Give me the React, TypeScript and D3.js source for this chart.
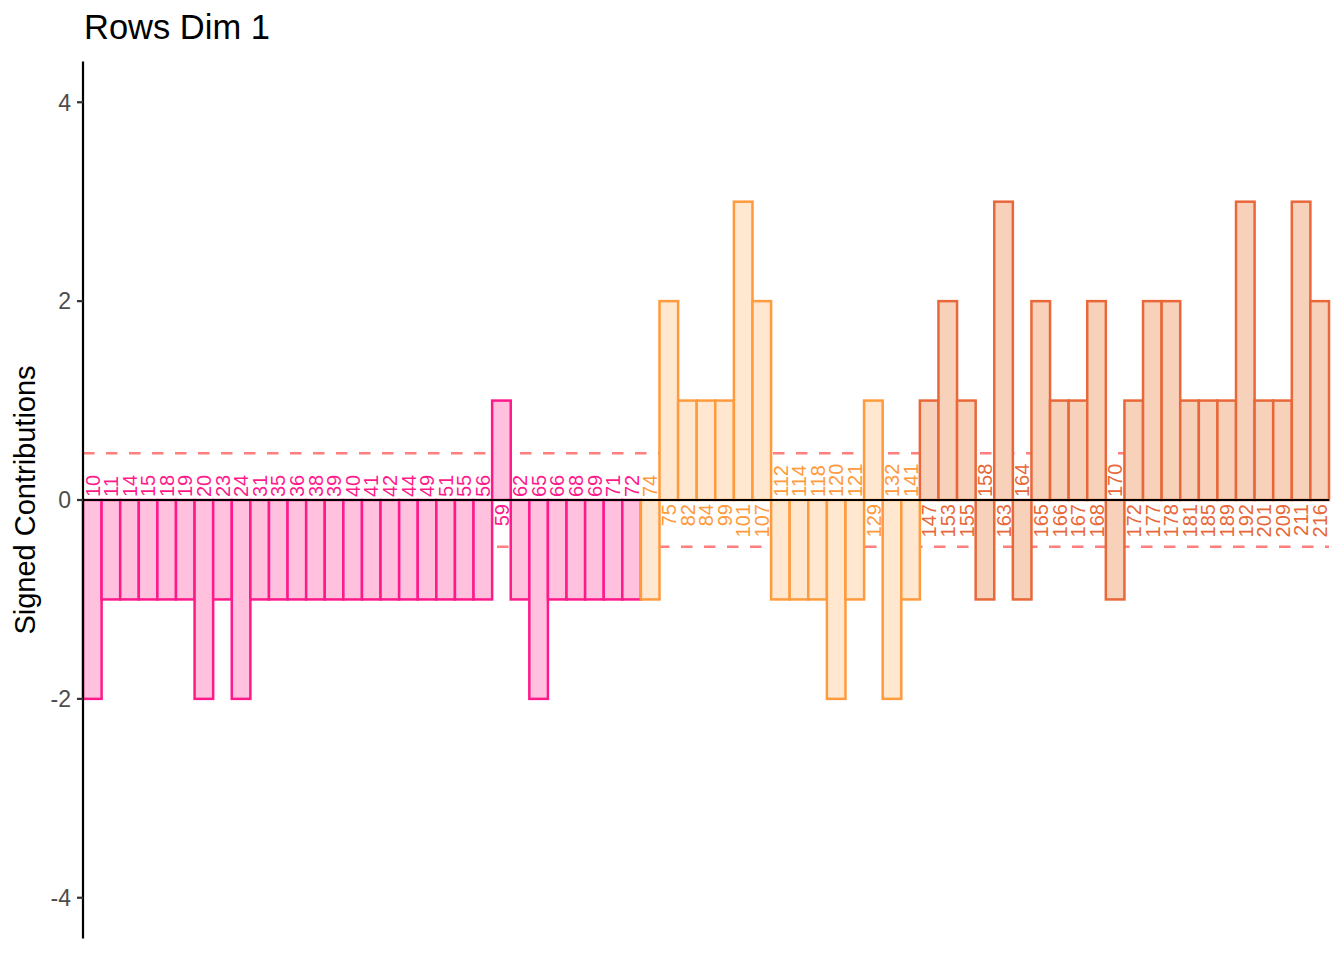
import React from "react";
import * as d3 from "d3";

const labels = ["10","11","14","15","18","19","20","23","24","31","35","36","38","39","40","41","42","44","49","51","55","56","59","62","65","66","68","69","71","72","74","75","82","84","99","101","107","112","114","118","120","121","129","132","141","147","153","155","158","163","164","165","166","167","168","170","172","177","178","181","185","189","192","201","209","211","216"];

const pinkValues = [-2,-1,-1,-1,-1,-1,-2,-1,-2,-1,-1,-1,-1,-1,-1,-1,-1,-1,-1,-1,-1,-1,1,-1,-2,-1,-1,-1,-1,-1];
const orangeValues = [-1,2,1,1,1,3,2,-1,-1,-1,-2,-1,1,-2,-1];
const darkValues = [1,2,1,-1,3,-1,2,1,1,2,-1,1,2,2,1,1,1,3,1,1,3,2];

const groupNames = ["g1", "g2", "g3"];
const groupFills = ["#FFC1DE", "#FFE8CF", "#F8D1BA"];
const groupStrokes = ["#FF1A8C", "#FF9A3D", "#E8683A"];

const yTicks = [-4, -2, 0, 2, 4];
const threshold = 0.47;

const values = [...pinkValues, ...orangeValues, ...darkValues];
const groups = [
  ...pinkValues.map(() => 0),
  ...orangeValues.map(() => 1),
  ...darkValues.map(() => 2),
];

export default function App() {
  const W = 1344, H = 960;
  const left = 83, right = 1329, top = 61.5, bottom = 938.5;
  const x = d3.scaleBand<string>().domain(labels).range([left, right]).padding(0);
  const y = d3.scaleLinear().domain([-4.41, 4.41]).range([bottom, top]);
  const y0 = y(0);
  const font = "'Liberation Sans', Arial, Helvetica, sans-serif";

  return (
    <svg width={W} height={H} style={{ position: "absolute", left: 0, top: 0, background: "#fff" }} fontFamily={font}>
      <rect x={0} y={0} width={W} height={H} fill="#fff" />
      {[threshold, -threshold].map((t, i) => (
        <line key={i} x1={left} x2={right} y1={y(t)} y2={y(t)} stroke="#FF7F7F" strokeWidth={2.5} strokeDasharray="11.5,11.5" />
      ))}
      {labels.map((lab, i) => {
        const v = values[i];
        const g = groups[i];
        const x0 = x(lab)!;
        const yt = Math.min(y(v), y0);
        const h = Math.abs(y(v) - y0);
        return (
          <rect key={lab} x={x0} y={yt} width={x.bandwidth()} height={h}
            fill={groupFills[g]} stroke={groupStrokes[g]} strokeWidth={2.5} />
        );
      })}
      <line x1={left} x2={right} y1={y0} y2={y0} stroke="#000" strokeWidth={2.2} />
      {labels.map((lab, i) => {
        const v = values[i];
        const g = groups[i];
        const cx = x(lab)! + x.bandwidth() / 2;
        const ty = v < 0 ? y0 - 3 : y0 + 4;
        return (
          <text key={"t" + lab} transform={`translate(${cx},${ty}) rotate(-90)`}
            textAnchor={v < 0 ? "start" : "end"} dy="0.36em" fontSize={20} fill={groupStrokes[g]}>
            {lab}
          </text>
        );
      })}
      <line x1={left} x2={left} y1={top} y2={bottom} stroke="#000" strokeWidth={2.2} />
      {yTicks.map((t) => (
        <g key={t}>
          <line x1={left - 6} x2={left} y1={y(t)} y2={y(t)} stroke="#333" strokeWidth={2.2} />
          <text x={left - 12} y={y(t)} dy="0.36em" textAnchor="end" fontSize={23} fill="#4D4D4D">{t}</text>
        </g>
      ))}
      <text transform={`translate(35,${(top + bottom) / 2}) rotate(-90)`} textAnchor="middle" fontSize={29} fill="#000">Signed Contributions</text>
      <text x={84} y={39} fontSize={34.5} fill="#000">Rows Dim 1</text>
    </svg>
  );
}
